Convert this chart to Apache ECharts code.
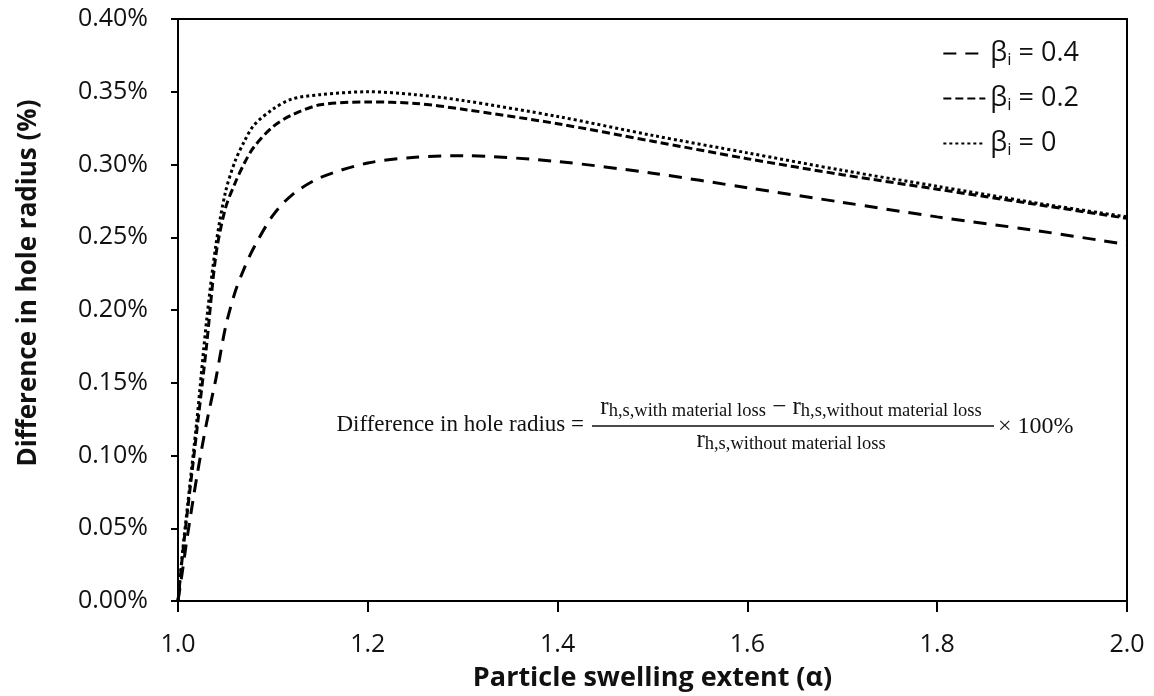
<!DOCTYPE html>
<html>
<head>
<meta charset="utf-8">
<script src="https://cdn.jsdelivr.net/npm/echarts@6/dist/echarts.min.js"></script>
<style>html,body{margin:0;padding:0;background:#fff;}#c{width:1154px;height:696px;}</style>
</head>
<body>
<div id="c"></div>
<script>
const alpha = [1.0, 1.005, 1.01, 1.02, 1.03, 1.04, 1.05, 1.06, 1.07, 1.08, 1.10, 1.12, 1.15, 1.20, 1.25, 1.30, 1.40, 1.50, 1.60, 1.70, 1.80, 1.90, 2.00];
const beta04 = [0, 0.022, 0.045, 0.086, 0.122, 0.153, 0.188, 0.212, 0.229, 0.243, 0.265, 0.279, 0.291, 0.301, 0.305, 0.306, 0.302, 0.294, 0.284, 0.274, 0.264, 0.255, 0.245];
const beta02 = [0, 0.033, 0.062, 0.118, 0.175, 0.238, 0.270, 0.287, 0.301, 0.312, 0.326, 0.334, 0.341, 0.343, 0.342, 0.338, 0.328, 0.316, 0.304, 0.293, 0.283, 0.273, 0.263];
const beta00 = [0, 0.035, 0.065, 0.125, 0.192, 0.245, 0.281, 0.302, 0.316, 0.327, 0.338, 0.345, 0.348, 0.350, 0.348, 0.344, 0.333, 0.320, 0.308, 0.296, 0.285, 0.274, 0.264];
const seriesNames = ['βi = 0.4', 'βi = 0.2', 'βi = 0'];
const legendValues = ['0.4', '0.2', '0'];

const pair = (ys) => alpha.map((a, i) => [a, ys[i]]);
const chart = echarts.init(document.getElementById('c'), null, {renderer: 'canvas'});
const txt = '#111';
const sansFont = 'Open Sans';
const serif = 'Liberation Serif';

function mk(name, ys, dash) {
  return {
    name: name, type: 'line', data: pair(ys), smooth: 0.3, symbol: 'none',
    lineStyle: {color: '#000', width: 3, type: dash},
    itemStyle: {color: '#000'}
  };
}

chart.setOption({
  animation: false,
  grid: {left: 178, right: 27, top: 19, bottom: 95, show: true, borderColor: '#000', borderWidth: 2, backgroundColor: 'transparent', containLabel: false, outerBoundsMode: 'none'},
  legend: {
    right: 70, top: 35, orient: 'vertical', itemWidth: 42, itemHeight: 10, itemGap: 16,
    data: seriesNames,
    itemStyle: {opacity: 0},
    formatter: function (n) { const k = seriesNames.indexOf(n); return '{b|β}{s|i}{b| = ' + legendValues[k] + '}'; },
    textStyle: {
      color: txt, fontFamily: sansFont,
      rich: {
        b: {fontSize: 27, fontFamily: sansFont, color: txt},
        s: {fontSize: 17, fontFamily: sansFont, color: txt, padding: [14, 0, 0, 0]}
      }
    }
  },
  xAxis: {
    type: 'value', min: 1.0, max: 2.0, interval: 0.2,
    name: 'Particle swelling extent (α)', nameLocation: 'middle', nameGap: 64,
    nameTextStyle: {fontSize: 27, fontWeight: 'bold', fontFamily: sansFont, color: txt},
    axisLine: {show: true, lineStyle: {color: '#000', width: 2}},
    axisTick: {show: true, inside: false, length: 11, lineStyle: {color: '#000', width: 2}},
    axisLabel: {fontSize: 25, fontFamily: sansFont, color: txt, margin: 31, formatter: v => v.toFixed(1)},
    splitLine: {show: false}
  },
  yAxis: {
    type: 'value', min: 0, max: 0.4, interval: 0.05,
    name: 'Difference in hole radius (%)', nameLocation: 'middle', nameGap: 136,
    nameTextStyle: {fontSize: 26, fontWeight: 'bold', fontFamily: sansFont, color: txt, padding: [0, 0, 0, 54]},
    axisLine: {show: true, lineStyle: {color: '#000', width: 2}},
    axisTick: {show: true, inside: false, length: 7, lineStyle: {color: '#000', width: 2}},
    axisLabel: {fontSize: 25, fontFamily: sansFont, color: txt, margin: 30, formatter: v => v.toFixed(2) + '%'},
    splitLine: {show: false}
  },
  series: [
    mk(seriesNames[0], beta04, [13, 9]),
    mk(seriesNames[1], beta02, [8, 4]),
    mk(seriesNames[2], beta00, [3, 3])
  ],
  graphic: [
    {type: 'text', x: 584, y: 425, style: {text: 'Difference in hole radius =', font: '23px "Liberation Serif"', fill: '#111', textAlign: 'right', textVerticalAlign: 'middle'}},
    {type: 'text', x: 791, y: 421, style: {
      text: '{r|r}{u|h,s,with material loss}{m| − }{r|r}{u|h,s,without material loss}',
      textAlign: 'center', textVerticalAlign: 'bottom',
      rich: {
        r: {fontSize: 25, fontFamily: serif, fill: '#111', color: '#111'},
        u: {fontSize: 18.5, fontFamily: serif, fill: '#111', color: '#111', padding: [9, 0, 0, 0]},
        m: {fontSize: 25, fontFamily: serif, fill: '#111', color: '#111'}
      }}},
    {type: 'line', shape: {x1: 592, y1: 426, x2: 994, y2: 426}, style: {stroke: '#111', lineWidth: 1.3}},
    {type: 'text', x: 791, y: 426, style: {
      text: '{r|r}{u|h,s,without material loss}',
      textAlign: 'center', textVerticalAlign: 'top',
      rich: {
        r: {fontSize: 25, fontFamily: serif, fill: '#111', color: '#111'},
        u: {fontSize: 18.5, fontFamily: serif, fill: '#111', color: '#111', padding: [9, 0, 0, 0]}
      }}},
    {type: 'text', x: 998, y: 427, style: {text: '× 100%', font: '24px "Liberation Serif"', fill: '#111', textVerticalAlign: 'middle'}}
  ]
});
</script>
</body>
</html>
